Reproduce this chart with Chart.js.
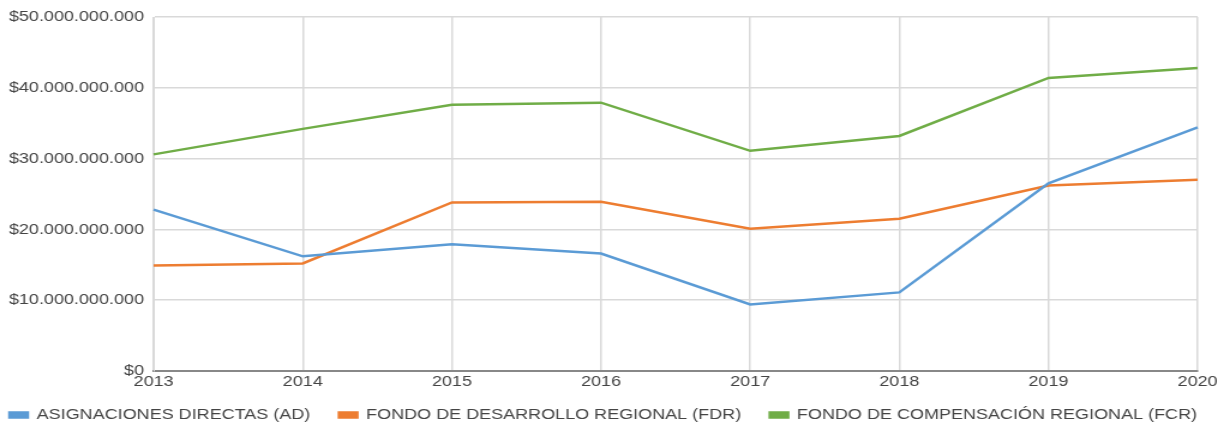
<!DOCTYPE html>
<html>
<head>
<meta charset="utf-8">
<script src="https://cdn.jsdelivr.net/npm/chart.js@4/dist/chart.umd.min.js"></script>
<style>
    html, body { margin: 0; padding: 0; background: #fff; overflow: hidden; }
    /* the chart is laid out narrower and then widened, so the text comes out broad */
    #wrap { width: 1022px; height: 423px; transform: scaleX(1.2); transform-origin: 0 0; }
</style>
</head>
<body>
<div id="wrap"><canvas id="chart"></canvas></div>
<script>
const years = ['2013', '2014', '2015', '2016', '2017', '2018', '2019', '2020']

// montos anuales en pesos
const asignacionesDirectas = [22.8e9, 16.2e9, 17.9e9, 16.6e9, 9.4e9, 11.1e9, 26.5e9, 34.4e9]
const fondoDesarrollo = [14.9e9, 15.2e9, 23.8e9, 23.9e9, 20.1e9, 21.5e9, 26.2e9, 27.0e9]
const fondoCompensacion = [30.6e9, 34.2e9, 37.6e9, 37.9e9, 31.1e9, 33.2e9, 41.4e9, 42.8e9]

const yTicks = [0, 10e9, 20e9, 30e9, 40e9, 50e9]

const fmt = v => '$' + Math.round(v).toString().replace(/\B(?=(\d{3})+(?!\d))/g, '.')

const line = (label, data, color) => ({
    label,
    data,
    borderColor: color,
    backgroundColor: color,
    borderWidth: 2.5,
    pointRadius: 0,
    tension: 0,
})

// pull the legend a little closer to the year labels
const legendNudge = {
    id: 'legendNudge',
    afterLayout(chart) {
        const lg = chart.legend
        if (!lg) return
        lg.top -= 7.5
        lg.bottom -= 7.5
        lg.legendHitBoxes.forEach(b => { b.top -= 7.5 })
    }
}

new Chart(document.getElementById('chart'), {
    type: 'line',
    data: {
        labels: years,
        datasets: [
            line('ASIGNACIONES DIRECTAS (AD)', asignacionesDirectas, '#5b9bd5'),
            line('FONDO DE DESARROLLO REGIONAL (FDR)', fondoDesarrollo, '#ed7d31'),
            line('FONDO DE COMPENSACIÓN REGIONAL (FCR)', fondoCompensacion, '#70ad47'),
        ]
    },
    plugins: [legendNudge],
    options: {
        responsive: true,
        maintainAspectRatio: false,
        animation: false,
        layout: { padding: { top: 7, right: -8, left: -16, bottom: -17 } },
        plugins: {
            tooltip: { enabled: false },
            legend: {
                position: 'bottom',
                align: 'start',
                labels: {
                    boxWidth: 15,
                    boxHeight: 5,
                    padding: 24,
                    color: '#444',
                    font: { family: 'Liberation Sans', size: 15 },
                }
            }
        },
        scales: {
            x: {
                offset: false,
                afterFit: s => { s.height = 20; s.paddingRight = 24 },
                grid: { color: '#d9d9d9', lineWidth: 1.5, drawTicks: false },
                border: { color: '#888', width: 2 },
                ticks: {
                    color: '#444',
                    padding: 2,
                    maxRotation: 0,
                    font: { family: 'Liberation Sans', size: 15 },
                }
            },
            y: {
                min: 0,
                max: 50e9,
                afterFit: s => { s.width = 144 },
                afterBuildTicks: s => { s.ticks = yTicks.map(v => ({ value: v })) },
                grid: { color: '#d9d9d9', lineWidth: 1.5, drawTicks: false },
                border: { color: '#d9d9d9' },
                ticks: {
                    color: '#444',
                    padding: 8,
                    font: { family: 'Liberation Sans', size: 15 },
                    callback: v => fmt(v),
                }
            }
        }
    }
})
</script>
</body>
</html>
